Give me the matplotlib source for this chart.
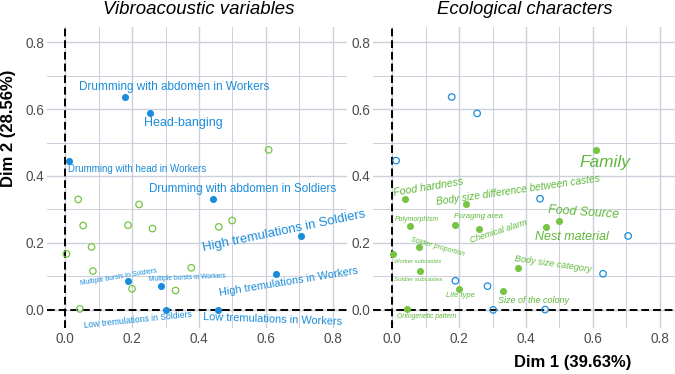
import numpy as np
import matplotlib
matplotlib.use("Agg")
import matplotlib.pyplot as plt

plt.rcParams['font.family'] = ['Liberation Sans', 'DejaVu Sans']

BLUE = '#1A8CDB'
GREEN = '#77C442'
GRID = '#CBD0DB'

# vibroacoustic variables (coordinates on Dim 1 / Dim 2)
vib_names = ["Drumming with abdomen in Workers", "Head-banging",
             "Drumming with head in Workers", "Drumming with abdomen in Soldiers",
             "High tremulations in Soldiers", "High tremulations in Workers",
             "Multiple bursts in Soldiers", "Multiple bursts in Workers",
             "Low tremulations in Soldiers", "Low tremulations in Workers"]
vib_x = [0.178, 0.254, 0.012, 0.442, 0.705, 0.630, 0.189, 0.285, 0.302, 0.457]
vib_y = [0.636, 0.587, 0.446, 0.332, 0.221, 0.108, 0.087, 0.071, 0.000, 0.001]

# ecological characters
eco_names = ["Family", "Food hardness", "Body size difference between castes",
             "Polymorphism", "Foraging area", "Chemical alarm", "Food Source",
             "Nest material", "Soldier proportion", "Worker subcastes",
             "Soldier subcastes", "Life type", "Body size category",
             "Size of the colony", "Ontogenetic pattern"]
eco_x = [0.608, 0.039, 0.221, 0.054, 0.188, 0.261, 0.499, 0.459, 0.079,
         0.004, 0.083, 0.200, 0.377, 0.330, 0.044]
eco_y = [0.478, 0.330, 0.315, 0.252, 0.253, 0.243, 0.267, 0.248, 0.188,
         0.167, 0.116, 0.063, 0.126, 0.058, 0.003]

# label placement (x, y, font size, angle) -- repelled labels
vib_lab = [(0.327, 0.665, 8.5, 0), (0.352, 0.557, 9.0, 0),
           (0.216, 0.420, 7.0, 0), (0.531, 0.360, 8.4, 0),
           (0.653, 0.235, 9.4, 11.8), (0.668, 0.084, 7.8, 9.2),
           (0.160, 0.098, 4.9, 9.4), (0.366, 0.096, 4.8, 2.5),
           (0.216, -0.031, 6.2, 5.9), (0.619, -0.027, 7.9, -2.0)]
eco_lab = [(0.637, 0.440, 12.4, 0), (0.108, 0.366, 7.7, 9.4),
           (0.377, 0.358, 7.3, 8.2), (0.075, 0.271, 5.0, 0),
           (0.257, 0.278, 5.7, 0), (0.318, 0.234, 6.2, 18),
           (0.572, 0.291, 8.9, -4), (0.537, 0.219, 9.0, 0),
           (0.137, 0.188, 5.0, -15.7), (0.076, 0.144, 4.2, 0),
           (0.079, 0.092, 4.4, 0), (0.204, 0.042, 5.5, 0),
           (0.482, 0.138, 6.6, -8.2), (0.422, 0.028, 6.5, 0),
           (0.102, -0.020, 4.9, 0)]


def setup(ax, xlim):
    ax.set_xlim(*xlim)
    ax.set_ylim(-0.054, 0.845)
    ticks = np.arange(0, 0.81, 0.2)
    ax.set_xticks(ticks)
    ax.set_yticks(ticks)
    ax.set_xticklabels(["%.1f" % t for t in ticks])
    ax.set_yticklabels(["%.1f" % t for t in ticks])
    ax.set_xticks(np.arange(0.1, 0.8, 0.2), minor=True)
    ax.set_yticks(np.arange(0.1, 0.8, 0.2), minor=True)
    ax.grid(which='major', color=GRID, lw=1.0, zorder=0)
    ax.grid(which='minor', color=GRID, lw=0.7, zorder=0)
    ax.set_axisbelow(True)
    for s in ax.spines.values():
        s.set_visible(False)
    ax.tick_params(which='both', length=0, labelsize=9.8, labelcolor='#4D4D4D')
    ax.tick_params(axis='x', pad=3)
    ax.tick_params(axis='y', pad=2)
    ax.axhline(0, color='black', lw=1.4, ls=(0, (4, 2)), zorder=1)
    ax.axvline(0, color='black', lw=1.4, ls=(0, (4, 2)), zorder=1)


fig = plt.figure(figsize=(6.75, 3.74), dpi=100)
ax1 = fig.add_axes([47 / 675, 46 / 374, 300 / 675, 301 / 374])
ax2 = fig.add_axes([373 / 675, 46 / 374, 302 / 675, 301 / 374])
setup(ax1, (-0.054, 0.842))
setup(ax2, (-0.057, 0.845))

# left: vibroacoustic variables highlighted
ax1.scatter(eco_x, eco_y, s=22, facecolors='none', edgecolors=GREEN, linewidths=0.9, zorder=3)
ax1.scatter(vib_x, vib_y, s=26, color=BLUE, lw=0, zorder=4)
for name, (lx, ly, fs, ang) in zip(vib_names, vib_lab):
    ax1.text(lx, ly, name, color=BLUE, fontsize=fs, rotation=ang,
             rotation_mode='anchor', ha='center', va='center', clip_on=False, zorder=5)

# right: ecological characters highlighted
ax2.scatter(vib_x, vib_y, s=22, facecolors='none', edgecolors=BLUE, linewidths=0.9, zorder=3)
ax2.scatter(eco_x, eco_y, s=26, color=GREEN, lw=0, zorder=4)
for name, (lx, ly, fs, ang) in zip(eco_names, eco_lab):
    ax2.text(lx, ly, name, color='#5FB83A', fontsize=fs, rotation=ang, style='italic',
             rotation_mode='anchor', ha='center', va='center', clip_on=False, zorder=5)

fig.text(198.3 / 675, 1 - 10 / 374, "Vibroacoustic variables", style='italic',
         fontsize=13.4, ha='center', va='center')
fig.text(525 / 675, 1 - 10 / 374, "Ecological characters", style='italic',
         fontsize=13.3, ha='center', va='center')
fig.text(8.5 / 675, 1 - 128 / 374, "Dim 2 (28.56%)", rotation=90, fontsize=12,
         weight='bold', ha='center', va='center')
fig.text(572.3 / 675, 1 - 363 / 374, "Dim 1 (39.63%)", fontsize=12,
         weight='bold', ha='center', va='center')

fig.savefig("out.png", dpi=100)
